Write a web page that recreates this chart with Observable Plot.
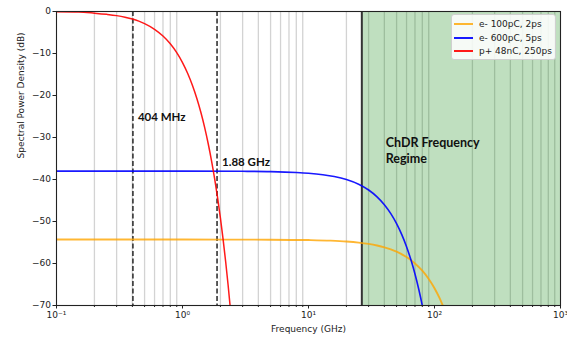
<!DOCTYPE html>
<html><head><meta charset="utf-8">
<script src="https://cdn.jsdelivr.net/npm/d3@7"></script>
<script src="https://cdn.jsdelivr.net/npm/@observablehq/plot@0.6"></script>
<style>
body{margin:0;background:#fff;}
#wrap{position:relative;width:567px;height:338px;overflow:hidden;}
#legend{position:absolute;left:451px;top:14px;width:103px;height:44px;background:rgba(255,255,255,0.85);border:1px solid #d0d0d0;border-radius:3px;font-family:"DejaVu Sans",sans-serif;font-size:9px;color:#222;}
#legend .row{position:absolute;left:0;width:100px;height:12px;line-height:12px;white-space:nowrap;}
#legend .sw{position:absolute;left:2px;top:5px;width:19px;height:2px;display:block;}
#legend .lb{position:absolute;left:27px;top:0;}
</style></head><body><div id="wrap"></div>
<script>
const seriesNames = ["e- 100pC, 2ps", "e- 600pC, 5ps", "p+ 48nC, 250ps"];
const seriesColors = ["#ffa500", "#0000ff", "#ff0000"];

const orangeFreq = [0.1, 1, 5, 10, 15, 20, 25, 30, 35, 40, 45, 50, 60, 70, 80, 90, 100, 110, 120];
const orangeDb = [-54.3, -54.3, -54.33, -54.42, -54.56, -54.76, -55.02, -55.34, -55.72, -56.15, -56.65, -57.2, -58.47, -59.98, -61.72, -63.69, -65.89, -68.32, -70.99];

const blueFreq = [0.1, 1, 3, 5, 8, 10, 13, 16, 20, 25, 30, 35, 40, 45, 50, 55, 60, 65, 70, 75, 80, 85];
const blueDb = [-38.0, -38.0, -38.05, -38.12, -38.32, -38.5, -38.85, -39.28, -40.0, -41.13, -42.5, -44.13, -46.0, -48.13, -50.5, -53.13, -56.0, -59.13, -62.5, -66.13, -70.0, -74.13];

const redFreq = [0.1, 0.15, 0.2, 0.25, 0.3, 0.35, 0.4, 0.45, 0.5, 0.6, 0.7, 0.8, 0.9, 1.0, 1.1, 1.2, 1.3, 1.4, 1.5, 1.6, 1.7, 1.8, 1.9, 2.0, 2.1, 2.2, 2.3, 2.4, 2.5];
const redDb = [-0.05, -0.12, -0.4, -0.68, -0.98, -1.35, -1.78, -2.3, -2.9, -4.25, -5.85, -7.7, -9.8, -12.15, -14.75, -17.6, -20.7, -24.05, -27.65, -31.49, -35.55, -39.85, -44.4, -49.2, -54.24, -59.53, -65.07, -70.85, -76.9];

const majorTicks = [0.1, 1, 10, 100, 1000];
const majorTickLabels = ["10\u207B\u00B9", "10\u2070", "10\u00B9", "10\u00B2", "10\u00B3"];
const minorTicks = [0.2,0.3,0.4,0.5,0.6,0.7,0.8,0.9, 2,3,4,5,6,7,8,9, 20,30,40,50,60,70,80,90, 200,300,400,500,600,700,800,900];
const yTicks = [0, -10, -20, -30, -40, -50, -60, -70];

const markerFreqs = [0.404, 1.88];
const markerLabels = ["404 MHz", "1.88 GHz"];
const markerLabelDb = [-25.1, -35.8];

const regimeStart = [26.5];
const regimeEnd = [1000];
const regimeLabels = ["ChDR Frequency", "Regime"];
const regimeLabelFreq = [41, 41];
const regimeLabelDb = [-31.2, -35.2];

const series = [
  {name: seriesNames[0], color: seriesColors[0], f: orangeFreq, v: orangeDb, op: 0.8, w: 1.9},
  {name: seriesNames[1], color: seriesColors[1], f: blueFreq, v: blueDb, op: 0.9, w: 1.6},
  {name: seriesNames[2], color: seriesColors[2], f: redFreq, v: redDb, op: 0.9, w: 1.5}
];
const regime = regimeStart.map((s, i) => ({x1: s, x2: regimeEnd[i]}));
const markers = markerFreqs.map((f, i) => ({f, label: markerLabels[i], db: markerLabelDb[i]}));
const regimeText = regimeLabels.map((t, i) => ({t, f: regimeLabelFreq[i], db: regimeLabelDb[i]}));

const lineMarks = series.map(s => Plot.line(s.f.map((f, i) => ({f, v: s.v[i]})), {
  x: "f", y: "v", stroke: s.color, strokeWidth: s.w, strokeOpacity: s.op, curve: "monotone-x", clip: true
}));

const chart = Plot.plot({
  width: 567, height: 338,
  marginLeft: 56, marginRight: 7, marginTop: 11, marginBottom: 33,
  x: {type: "log", domain: [0.1, 1000]},
  y: {domain: [-70, 0]},
  style: {fontFamily: "DejaVu Sans", fontSize: "9px", color: "#222", background: "white", overflow: "visible"},
  marks: [
    Plot.ruleX(minorTicks, {stroke: "#d3d3d3", strokeWidth: 1.3}),
    Plot.rect(regime, {x1: "x1", x2: "x2", fill: "green", fillOpacity: 0.25}),
    Plot.ruleX(regimeStart, {stroke: "#333", strokeWidth: 2}),
    Plot.ruleX(markers, {x: "f", stroke: "#333", strokeWidth: 1.6, strokeDasharray: "5,2.5"}),
    ...lineMarks,
    Plot.text(markers, {x: "f", y: "db", text: "label", textAnchor: "start", dx: 5, fontFamily: "Lato", fontWeight: "bold", fontSize: 11.5, fill: "#111"}),
    Plot.text(regimeText, {x: "f", y: "db", text: "t", textAnchor: "start", fontFamily: "Lato", fontWeight: "bold", fontSize: 12.5, fill: "#111"}),
    Plot.axisX(minorTicks, {tickSize: 2, tickFormat: () => "", label: null}),
    Plot.axisX(majorTicks, {tickSize: 3.5, tickPadding: 3, tickFormat: d => majorTickLabels[majorTicks.indexOf(d)], label: null}),
    Plot.axisY(yTicks, {tickSize: 3.5, tickPadding: 2, label: null}),
    Plot.text(["Frequency (GHz)"], {frameAnchor: "bottom", dy: 26}),
    Plot.text(["Spectral Power Density (dB)"], {frameAnchor: "left", dx: -35, rotate: -90}),
    Plot.frame({stroke: "#222", strokeWidth: 1.1})
  ]
});
const wrap = document.getElementById("wrap");
wrap.appendChild(chart);

const legend = document.createElement("div");
legend.id = "legend";
series.forEach((s, i) => {
  const row = document.createElement("div");
  row.className = "row";
  row.style.top = (3 + i * 13.5) + "px";
  const sw = document.createElement("span");
  sw.className = "sw";
  sw.style.backgroundColor = s.color;
  sw.style.opacity = s.op;
  const lb = document.createElement("span");
  lb.className = "lb";
  lb.textContent = s.name;
  row.appendChild(sw);
  row.appendChild(lb);
  legend.appendChild(row);
});
wrap.appendChild(legend);
</script>
</body></html>
